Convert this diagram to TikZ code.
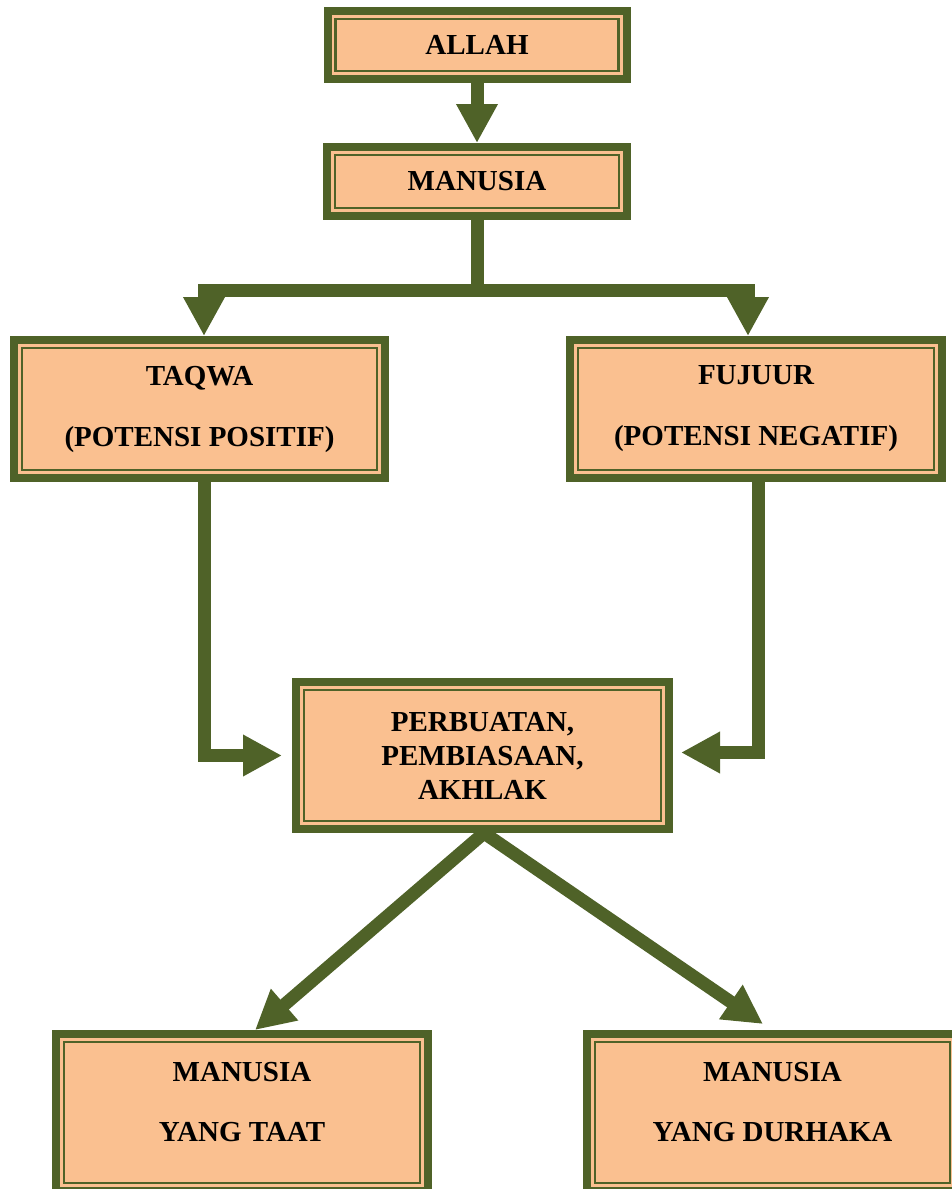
\documentclass[tikz,border=0pt]{standalone}
\usepackage{fontspec}
\setmainfont{Liberation Serif}
\usetikzlibrary{arrows.meta}
\definecolor{dg}{HTML}{4F6228}
\definecolor{peach}{HTML}{FAC090}
\begin{document}
\begin{tikzpicture}[x=1pt,y=1pt,
  box/.style={draw=dg, fill=peach, line width=8pt, inner sep=0pt, align=center,
    font=\bfseries\fontsize{29}{34}\selectfont},
  lbl/.style={inner sep=0pt, align=center, font=\bfseries\fontsize{29}{34}\selectfont},
  innerline/.style={draw=dg, line width=2.5pt},
  conn/.style={draw=dg, line width=13pt, -{Triangle[length=39pt,width=39pt]}}]
\useasboundingbox (0,0) rectangle (952,-1189);
\node[box, minimum width=299, minimum height=68] (allah) at (477,-45) {ALLAH};
\node[box, minimum width=300, minimum height=69] (manusia) at (477,-181.5) {MANUSIA};
\node[box, minimum width=371, minimum height=138] (taqwa) at (199.5,-409) {TAQWA\\[27pt](POTENSI POSITIF)};
\node[box, minimum width=372, minimum height=138] (fujuur) at (756,-409) {FUJUUR\\[27pt](POTENSI NEGATIF)};
\node[box, minimum width=373, minimum height=147] (perb) at (482.5,-755.5) {PERBUATAN,\\PEMBIASAAN,\\AKHLAK};
\node[box, minimum width=372, minimum height=157] (taat) at (242,-1112.5) {};
\node[box, minimum width=371, minimum height=157] (durh) at (772.5,-1112.5) {};
\node[lbl] (taat-t) at ([yshift=10pt]taat.center) {MANUSIA\\[26pt]YANG TAAT};
\node[lbl] (durh-t) at ([yshift=10pt]durh.center) {MANUSIA\\[26pt]YANG DURHAKA};
\foreach \n in {allah,manusia,taqwa,fujuur,perb,taat,durh}
  \draw[innerline] ([shift={(12,-12)}]\n.north west) rectangle ([shift={(-12,12)}]\n.south east);
% connectors
\draw[conn] (allah.south) -- (manusia.north);
\draw[conn] (manusia.south) -- ++(0,-70) -| ([xshift=4.5pt]taqwa.north);
\draw[conn] (manusia.south) -- ++(0,-70) -| ([xshift=-8pt]fujuur.north);
\draw[conn] ([xshift=4.5pt]taqwa.south) |- ([xshift=-10pt]perb.west);
\draw[conn] ([xshift=2pt]fujuur.south) |- ([xshift=8pt,yshift=3pt]perb.east);
\draw[conn] ([xshift=1.5pt]perb.south) -- ([xshift=13pt]taat.north);
\draw[conn] ([xshift=1.5pt]perb.south) -- ([xshift=-9.5pt,yshift=6pt]durh.north);
\end{tikzpicture}
\end{document}
